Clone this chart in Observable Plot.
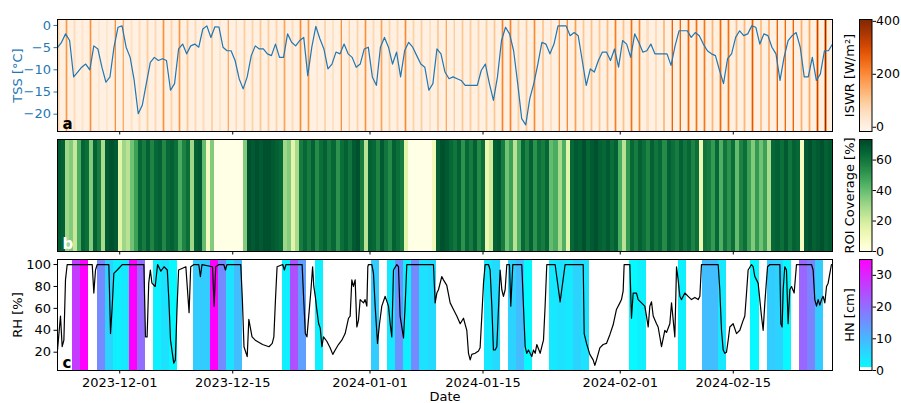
<!DOCTYPE html>
<html><head><meta charset="utf-8">
<script src="https://cdn.jsdelivr.net/npm/d3@7"></script>
<script src="https://cdn.jsdelivr.net/npm/@observablehq/plot@0.6"></script>
<style>
body{margin:0;background:#fff;}
#wrap{position:relative;width:901px;height:403px;overflow:hidden;background:#fff;}
</style></head><body><div id="wrap"></div>
<script>
// ---------- time axis ----------
const startISO = "2023-11-23T07:00:00Z";
const endISO = "2024-02-27T07:00:00Z";
const tickLabels = ["2023-12-01","2023-12-15","2024-01-01","2024-01-15","2024-02-01","2024-02-15"];

// ---------- panel a: TSS (°C), every 12 h from start ----------
const tssValues = [-5,-3.8,-1.9,-3.4,-11.6,-10.5,-9.4,-8.7,-10,-4.6,
-5.3,-9.4,-12.8,-11.6,-4.9,-0.4,-0.1,-4.9,-7.2,-12.4,
-19.9,-18,-13.1,-8.3,-7.2,-7.9,-7.5,-7.9,-14.6,-13.1,
-5.3,-4.2,-6.4,-4.6,-4.2,-4.9,-0.8,-0.1,-2.7,-0.3,
-0.4,-4.9,-5.7,-5.7,-7.9,-12,-14.3,-11.6,-6.8,-4.6,
-5.3,-5.3,-6.4,-6.8,-4.2,-7.2,-7.2,-1.9,-3.8,-4.6,
-3.4,-2.7,-11.3,-4.9,-0.2,-3,-5.3,-9.8,-8.7,-6,
-6.4,-4.2,-6.4,-7.2,-9.4,-8.7,-5.3,-4.9,-11.6,-13.5,
-4.9,-2.7,-4.9,-8.7,-6,-11.6,-5.7,-3.8,-4.9,-6.8,
-8.7,-9.4,-14.6,-13.1,-5.3,-6.4,-10.5,-12,-11.6,-12,
-12.4,-13.5,-13.5,-13.5,-13.5,-10.1,-8.7,-13.1,-16.9,-11.6,
-3.4,-0.4,-1.9,-5.7,-13,-21,-22.4,-16.5,-13.1,-8.7,
-3.8,-4.2,-6.4,-4.2,-0.1,-0.1,-0.1,-2.3,-1.6,-2.3,
-7.9,-13.5,-9.8,-10.5,-7.9,-6,-6,-7.9,-5.3,-9.4,
-3.4,-4.2,-7.2,-1.9,-3.8,-6,-5.7,-4.2,-6.4,-6.4,
-6.4,-6.4,-9,-4.6,-1.2,-1.2,-1.2,-2.7,-1.6,-2.3,
-4.2,-5.7,-6.4,-6.8,-10.1,-13.1,-7.5,-6.4,-2.7,-1.2,
-2.3,-1.9,-0.1,-0.4,-4.2,-1.9,-2.3,-4.9,-6.4,-12.4,
-7.2,-3.4,-2.3,-1.6,-4.9,-11.6,-11.6,-7.2,-12.4,-10.9,
-5.7,-5.7,-4.2];

// ISWR (W/m²), one value per day from 2023-11-23: midday peak and daylight level
const iswrFirstDay = "2023-11-23";
const iswrPeak = [80,180,60,40,190,60,70,190,150,50,
60,90,70,190,80,180,100,70,60,180,
80,150,70,90,80,100,90,80,160,60,
200,180,70,170,90,190,90,80,190,70,
160,80,70,200,80,90,100,200,150,90,
100,90,80,90,100,210,210,90,100,200,
210,110,190,200,170,100,110,100,120,220,
110,240,200,110,120,250,260,250,260,240,
230,130,250,240,120,130,280,240,290,260,
250,260,140,150,320,390,100];
const iswrDaylight = [40,80,30,20,85,30,35,85,70,25,
30,45,35,85,40,80,50,35,30,80,
40,70,35,45,40,50,45,40,75,30,
90,80,35,75,45,85,45,40,85,35,
75,40,35,90,40,45,50,90,70,45,
50,45,40,45,50,95,95,45,50,90,
95,55,85,90,80,50,55,50,60,100,
55,110,90,55,60,115,120,115,120,110,
105,65,115,110,60,65,125,110,130,120,
115,120,70,75,145,175,50];

// ---------- panel b: ROI coverage (%), every 12 h from start ----------
const roiValues = [68,66,30,35,22,45,65,62,35,66,58,28,68,70,68,15,30,25,38,48,
64,58,66,56,64,66,55,64,66,62,45,56,62,30,66,68,40,8,35,
0,0,0,0,0,0,0,35,
70,68,70,68,70,70,68,66,64,
30,35,15,28,58,
64,58,66,54,62,66,58,64,52,62,66,60,
68,70,58,25,66,
64,56,68,60,54,66,62,58,15,
0,0,0,0,0,0,10,
66,70,68,64,60,66,52,64,58,66,54,62,12,20,66,68,58,38,48,25,44,64,56,66,52,62,58,64,40,45,28,44,15,64,
68,66,70,64,68,70,66,64,68,62,66,
45,25,50,
64,58,66,62,56,66,60,64,54,66,62,58,66,60,64,56,62,
12,60,
58,50,64,44,60,52,62,40,56,62,48,
35,50,38,48,28,64,
66,62,68,60,66,64,8,
68,70,66,68,70,66,68];

// ---------- panel c: RH (%) [days since start, value] and daily HN (cm) ----------
const rhSeries = [[0,22],[0.37,53],[0.58,25],[0.79,31],[0.99,86],[1.2,100],[4.3,100],[4.5,74],[4.71,95],[4.92,100],
[6.36,100],[6.57,37],[6.78,62],[6.98,92],[7.4,95],[8.02,100],[10.7,100],[10.9,34],[11.1,34],[11.3,83],
[11.5,95],[11.7,83],[12.1,80],[12.4,100],[12.8,94],[13.2,98],[13.6,95],[13.8,67],[14.0,31],[14.4,10],
[14.6,13],[14.8,59],[15.0,95],[15.9,98],[16.3,56],[16.5,98],[16.9,100],[17.5,100],[17.7,89],[17.9,100],
[19.2,98],[19.4,62],[19.6,98],[20.0,100],[20.6,100],[20.8,95],[21.0,100],[22.7,100],[22.9,68],[23.1,25],
[23.5,16],[23.7,50],[24.1,34],[24.5,31],[25.4,27],[26.2,25],[26.6,28],[26.8,34],[27.0,68],[27.2,98],
[27.9,100],[28.1,95],[28.3,100],[30.3,100],[30.5,68],[30.7,37],[30.9,34],[31.4,77],[31.6,98],[31.75,80],
[31.95,70],[32.1,60],[32.35,46],[32.55,42],[32.75,25],[32.95,34],[33.36,30],[33.77,24],[34.1,18],[34.4,22],
[34.8,27],[35.22,31],[35.63,37],[36.05,51],[36.25,53],[36.46,86],[36.66,80],[36.87,86],[37.08,43],[37.28,49],
[37.49,68],[37.9,65],[38.1,68],[38.32,62],[38.44,98],[38.52,100],[38.94,100],[39.14,92],[39.35,62],[39.64,28],
[39.89,46],[40.17,62],[40.59,71],[41.0,62],[41.21,46],[41.41,34],[41.62,95],[42.03,100],[42.24,98],[42.44,53],
[42.86,33],[43.06,62],[43.27,100],[46.57,100],[46.78,65],[46.99,74],[47.19,77],[47.6,89],[47.81,86],[48.22,81],
[48.64,65],[49.05,59],[49.46,53],[49.88,46],[50.29,51],[50.7,40],[50.91,19],[51.12,13],[51.32,18],[51.73,19],
[52.15,21],[52.35,24],[52.56,53],[52.77,83],[52.97,100],[53.39,100],[53.59,95],[53.8,62],[54.0,22],[54.21,22],
[54.42,25],[54.83,95],[55.04,77],[55.24,71],[55.45,77],[55.66,100],[55.99,100],[56.15,62],[56.4,100],[57.51,100],
[57.72,62],[57.93,25],[58.13,19],[58.34,22],[58.75,16],[58.96,22],[59.17,19],[59.37,27],[59.79,19],[59.99,25],
[60.2,31],[60.4,62],[60.61,100],[61.64,100],[62.26,66],[62.88,100],[65.12,100],[65.24,37],[65.53,28],[65.94,18],
[66.35,13],[66.56,8],[66.77,13],[67.18,24],[67.59,27],[68.0,28],[68.42,36],[68.83,45],[69.24,59],[69.66,65],
[69.86,68],[70.07,76],[70.19,100],[70.9,100],[71.1,51],[71.31,74],[71.72,74],[71.93,68],[72.34,65],[72.75,62],
[72.96,53],[73.17,43],[73.37,62],[73.58,66],[73.79,53],[74.2,46],[74.4,43],[74.82,25],[75.23,40],[75.44,38],
[75.85,46],[76.06,65],[76.47,34],[76.68,98],[76.88,86],[77.09,71],[77.3,68],[77.71,74],[78.12,71],[78.53,68],
[78.95,70],[79.36,68],[79.57,71],[79.77,100],[81.84,100],[82.04,77],[82.25,40],[82.46,22],[82.66,19],[82.87,20],
[83.08,31],[83.28,43],[83.69,46],[84.11,37],[84.52,40],[84.93,49],[85.14,53],[85.35,74],[85.55,95],[85.97,100],
[86.17,98],[86.38,89],[86.59,86],[86.79,83],[87.2,53],[87.41,40],[87.62,65],[87.95,98],[88.24,100],[89.48,100],
[89.6,46],[89.76,43],[89.89,77],[90.09,98],[90.3,95],[90.5,46],[90.71,77],[90.92,80],[91.25,74],[91.54,100],
[93.4,100],[93.6,95],[93.81,68],[94.02,62],[94.22,68],[94.43,63],[94.64,68],[94.84,71],[95.05,65],[95.26,80],
[95.46,83],[95.67,92],[95.87,100],[96.0,100]];

const hnFirstDay = "2023-11-24";
const hnValues = [0,27,35,0,16,6,2,3,35,20,
0,2,4,1,0,0,7,7,35,16,
4,9,0,0,0,0,0,2,24,13,
0,2,0,0,0,0,0,0,7,0,
3,15,2,16,4,5,0,0,0,0,
0,0,3,5,0,6,9,1,0,0,
3,4,3,6,4,0,0,0,0,0,
1,2,0,0,0,0,2,0,0,9,
9,3,0,0,0,1,0,7,6,1,
0,21,17,7,0];

// ---------- build ----------
const HOUR = 3600e3, DAY = 24 * HOUR;
const t0 = Date.parse(startISO), t1 = Date.parse(endISO);
const xDomain = [new Date(t0), new Date(t1)];
const tickDates = tickLabels.map(s => new Date(s + "T00:00:00Z"));
const W = 901, ML = 57, MR = 69;
const style = {fontFamily: "'DejaVu Sans', sans-serif", fontSize: "13px", background: "transparent", overflow: "visible", color: "black"};
const minus = d => d < 0 ? "\u2212" + Math.abs(d) : String(d);
const wrap = document.getElementById("wrap");
function place(node, left, top, w) {
  const div = document.createElement("div");
  div.style.cssText = `position:absolute;left:${left}px;top:${top}px;width:${w}px;`;
  div.appendChild(node);
  wrap.appendChild(div);
}
const panelLetter = (s, fill) => Plot.text([s], {frameAnchor: "bottom-left", dx: 5, dy: -3, fontWeight: "bold", fontSize: 15, textAnchor: "start", lineAnchor: "bottom", fill});
const bareTicks = () => Plot.axisX({ticks: tickDates, tickSize: 3.5, tickFormat: () => "", label: null});

// panel a
const tss = tssValues.map((v, i) => ({t: new Date(t0 + i * 12 * HOUR), v}));
const day0 = Date.parse(iswrFirstDay + "T00:00:00Z");
const iswrDays = iswrPeak.map((p, k) => ({day: day0 + k * DAY, peak: p, light: iswrDaylight[k], night: 0}));
const panelA = Plot.plot({
  width: W, height: 136, marginLeft: ML, marginRight: MR, marginTop: 19, marginBottom: 5, style,
  x: {type: "utc", domain: xDomain},
  y: {domain: [-23.9, 1.34]},
  color: {type: "linear", scheme: "oranges", domain: [-16, 407]},
  marks: [
    Plot.rect(iswrDays, {x1: d => new Date(d.day), x2: d => new Date(d.day + DAY), fill: "night", inset: 0, clip: true, shapeRendering: "crispEdges"}),
    Plot.rect(iswrDays, {x1: d => new Date(d.day + 7.5 * HOUR), x2: d => new Date(d.day + 15.5 * HOUR), fill: "light", inset: 0, clip: true, shapeRendering: "crispEdges"}),
    Plot.rect(iswrDays, {x1: d => new Date(d.day + 10.5 * HOUR), x2: d => new Date(d.day + 13 * HOUR), fill: "peak", inset: 0, clip: true, shapeRendering: "crispEdges"}),
    Plot.line(tss, {x: "t", y: "v", stroke: "#1f77b4", strokeWidth: 1.2, clip: true}),
    Plot.frame({stroke: "black"}),
    Plot.axisY({ticks: [0, -5, -10, -15, -20], tickFormat: minus, color: "#1f77b4", tickSize: 3.5, tickPadding: 3, label: "TSS [°C]", labelAnchor: "center", labelOffset: 45, labelArrow: "none"}),
    bareTicks(),
    panelLetter("a", "black")
  ]
});
place(panelA, 0, 0, W);

// panel b
const roi = roiValues.map((v, j) => ({a: new Date(t0 + j * 12 * HOUR), b: new Date(t0 + (j + 1) * 12 * HOUR), v}));
const panelB = Plot.plot({
  width: W, height: 122, marginLeft: ML, marginRight: MR, marginTop: 5, marginBottom: 5, style,
  x: {type: "utc", domain: xDomain},
  color: {type: "linear", scheme: "ylgn", domain: [0, 73.5]},
  marks: [
    Plot.rect(roi, {x1: "a", x2: "b", fill: "v", inset: 0, clip: true, shapeRendering: "crispEdges"}),
    Plot.frame({stroke: "black"}),
    bareTicks(),
    panelLetter("b", "white")
  ]
});
place(panelB, 0, 134, W);

// panel c
const hnDay0 = Date.parse(hnFirstDay + "T00:00:00Z");
const hnDays = hnValues.map((v, k) => ({a: new Date(hnDay0 + k * DAY + 4.6 * HOUR), b: new Date(hnDay0 + (k + 1) * DAY + 4.6 * HOUR), v})).filter(d => d.v > 0);
const rh = rhSeries.map(([d, v]) => ({t: new Date(t0 + d * DAY), v}));
const hnColor = {type: "linear", domain: [0, 35], range: ["#00ffff", "#ff00ff"], interpolate: "rgb"};
const panelC = Plot.plot({
  width: W, height: 149, marginLeft: ML, marginRight: MR, marginTop: 5, marginBottom: 33, style,
  x: {type: "utc", domain: xDomain},
  y: {domain: [3.3, 104.6]},
  color: hnColor,
  marks: [
    Plot.rect(hnDays, {x1: "a", x2: "b", fill: "v", inset: 0, clip: true, shapeRendering: "crispEdges"}),
    Plot.line(rh, {x: "t", y: "v", stroke: "black", strokeWidth: 1.2, clip: true}),
    Plot.frame({stroke: "black"}),
    Plot.axisY({ticks: [20, 40, 60, 80, 100], tickSize: 3.5, tickPadding: 3, label: "RH [%]", labelAnchor: "center", labelOffset: 45, labelArrow: "none"}),
    Plot.axisX({ticks: tickDates, tickFormat: (d, i) => tickLabels[i], tickSize: 3.5, tickPadding: 3.5, label: null}),
    Plot.axisX({ticks: [], tickSize: 0, label: "Date", labelAnchor: "center", labelOffset: 30, labelArrow: "none"}),
    panelLetter("c", "black")
  ]
});
place(panelC, 0, 254, W);

// colorbars
function colorbar({top, height, marginTop, marginBottom, domain, ticks, label, color, under}) {
  const lo = under ? under[1] : domain[0], hi = domain[1], n = 240;
  const levels = d3.range(n).map(i => ({y1: lo + i * (hi - lo) / n, y2: lo + (i + 1) * (hi - lo) / n}));
  const marks = [];
  if (under) marks.push(Plot.rect([under], {y1: d => d[0], y2: d => d[1], fill: "white", inset: 0}));
  marks.push(
    Plot.rect(levels, {y1: "y1", y2: "y2", fill: d => (d.y1 + d.y2) / 2, inset: 0, shapeRendering: "crispEdges"}),
    Plot.frame({stroke: "black"}),
    Plot.axisY({anchor: "right", ticks, tickSize: 3.5, tickPadding: 0.5, fontSize: 12.5, label: null}),
    Plot.axisY({anchor: "left", ticks: [], tickSize: 0, label, labelAnchor: "center", labelOffset: 15, labelArrow: "none"})
  );
  const svg = Plot.plot({
    width: 81, height, marginLeft: 39, marginRight: 29.5, marginTop, marginBottom, style,
    y: {domain},
    color,
    marks
  });
  place(svg, 820, top, 81);
}
colorbar({top: 0, height: 136, marginTop: 19, marginBottom: 5, domain: [-16, 407], ticks: [0, 200, 400], label: "ISWR [W/m²]", color: {type: "linear", scheme: "oranges", domain: [-16, 407]}});
colorbar({top: 134, height: 122, marginTop: 5, marginBottom: 5, domain: [0, 73.5], ticks: [0, 20, 40, 60], label: "ROI Coverage [%]", color: {type: "linear", scheme: "ylgn", domain: [0, 73.5]}});
colorbar({top: 254, height: 149, marginTop: 5, marginBottom: 33, domain: [0, 35], ticks: [0, 10, 20, 30], label: "HN [cm]", color: hnColor, under: [0, 0.875]});
</script>
</body></html>
